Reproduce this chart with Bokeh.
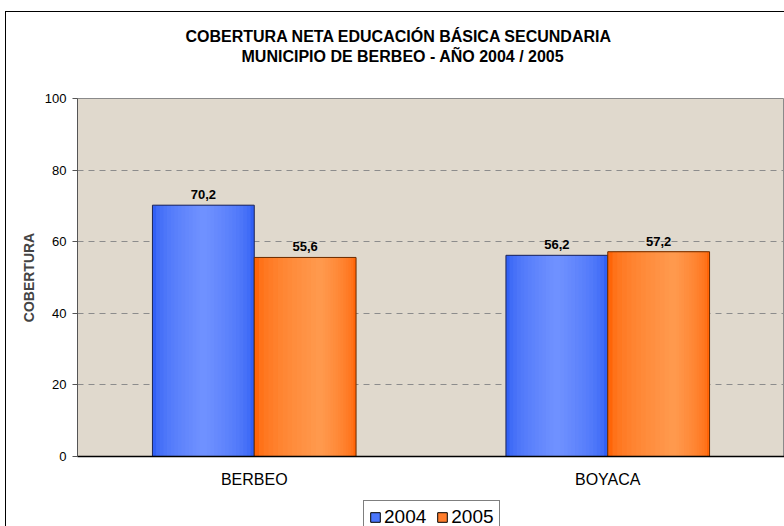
from bokeh.plotting import figure
from bokeh.layouts import column
from bokeh.models import (ColumnDataSource, Legend, LegendItem, Title,
                          FactorRange, Range1d, FixedTicker)
from bokeh.transform import dodge
from bokeh.core.properties import value
from bokeh.embed import file_html
from bokeh.resources import INLINE

# ---- data ----
categories = ["BERBEO", "BOYACA"]
years = ["2004", "2005"]
cov_2004 = [70.2, 56.2]
cov_2005 = [55.6, 57.2]
y_ticks = [0, 20, 40, 60, 80, 100]
title_lines = ["COBERTURA NETA EDUCACIÓN BÁSICA SECUNDARIA",
               "MUNICIPIO DE BERBEO - AÑO 2004 / 2005"]
y_label = "COBERTURA"


def fmt(v):
    return f"{v:.1f}".replace(".", ",")


src = ColumnDataSource(dict(
    cat=categories,
    y2004=cov_2004, y2005=cov_2005,
    t2004=[fmt(v) for v in cov_2004], t2005=[fmt(v) for v in cov_2005],
))

FONT = "Liberation Sans"
# whole chart sits inside a black-bordered box starting at (5, 11) on the page
W, H = 778, 483
p = figure(width=W, height=H,
           x_range=FactorRange(factors=categories, range_padding=0),
           y_range=Range1d(0, 100),
           output_backend="svg", toolbar_location=None,
           min_border_left=71, min_border_right=0, min_border_top=86, min_border_bottom=39)
p.background_fill_color = "#E0D9CD"
p.border_fill_color = "white"
p.outline_line_color = "#8a8a8a"
p.outline_line_width = 1

# axes
p.yaxis.ticker = FixedTicker(ticks=y_ticks)
p.yaxis.axis_line_color = "#555555"
p.yaxis.major_tick_line_color = "#555555"
p.yaxis.major_tick_out = 5
p.yaxis.major_tick_in = 0
p.yaxis.minor_tick_line_color = None
p.yaxis.major_label_text_font = FONT
p.yaxis.major_label_text_font_size = "13px"
p.yaxis.major_label_text_color = "black"
p.yaxis.major_label_standoff = 6
p.yaxis.axis_label = y_label
p.yaxis.axis_label_text_font = FONT
p.yaxis.axis_label_text_font_style = "bold"
p.yaxis.axis_label_text_font_size = "14px"
p.yaxis.axis_label_standoff = 5

p.xaxis.axis_line_color = "black"
p.xaxis.axis_line_width = 1.5
p.xaxis.major_tick_line_color = None
p.xaxis.major_tick_out = 0
p.xaxis.major_label_text_font = FONT
p.xaxis.major_label_text_font_size = "16px"
p.xaxis.major_label_text_color = "black"
p.xaxis.major_label_standoff = 14

p.xgrid.grid_line_color = None
p.ygrid.ticker = FixedTicker(ticks=y_ticks[1:-1])
p.ygrid.grid_line_color = "#8c8c8c"
p.ygrid.grid_line_dash = "6 5"
p.ygrid.grid_line_width = 1

# ---- bars with simulated horizontal gradient ----
BW = 0.288
OFF = 0.144
N = 14


def mix(c1, c2, t):
    a = [int(c1[i:i + 2], 16) for i in (1, 3, 5)]
    b = [int(c2[i:i + 2], 16) for i in (1, 3, 5)]
    return "#" + "".join(f"{round(x + (y - x) * t):02x}" for x, y in zip(a, b))


def gradient_bar(field, offset, edge, light, hl, outline):
    p.vbar(x=dodge("cat", offset, range=p.x_range), top=field, width=BW,
           source=src, fill_color=edge, line_color=None)
    for k in range(1, N):
        t = k / N
        lo = hl * t
        hi = hl + (1 - hl) * (1 - t)
        c = (lo + hi) / 2
        w = hi - lo
        p.vbar(x=dodge("cat", offset + (c - 0.5) * BW, range=p.x_range), top=field,
               width=BW * w, source=src, fill_color=mix(edge, light, t ** 0.55),
               line_color=None)
    p.vbar(x=dodge("cat", offset, range=p.x_range), top=field, width=BW, source=src,
           fill_color=None, line_color=outline, line_width=1)


gradient_bar("y2004", -OFF, "#3160F5", "#7293FF", 0.5, "#1c2456")
gradient_bar("y2005", OFF, "#FF6508", "#FF9B50", 0.65, "#6b2c00")

# value labels
for field, tfield, off in (("y2004", "t2004", -OFF), ("y2005", "t2005", OFF)):
    p.text(x=dodge("cat", off, range=p.x_range), y=field, text=tfield, source=src,
           text_font=value(FONT), text_font_style="bold", text_font_size="13px",
           text_color="black", text_align="center", text_baseline="bottom", y_offset=-6)

# ---- titles (two lines) + spacer nearest the plot ----
p.add_layout(Title(text=" ", standoff=14, text_font=FONT, text_font_size="16px"), "above")
p.add_layout(Title(text=title_lines[1], align="left", offset=164, standoff=1,
                   text_font=FONT, text_font_style="bold", text_font_size="16px",
                   text_color="black"), "above")
p.add_layout(Title(text=title_lines[0], align="left", offset=108, standoff=1,
                   text_font=FONT, text_font_style="bold", text_font_size="16px",
                   text_color="black"), "above")

# ---- legend strip (separate small figure under the chart) ----
LH = 31
lf = figure(width=W, height=LH, x_range=Range1d(0, 1), y_range=Range1d(0, 1),
            output_backend="svg", toolbar_location=None,
            min_border_left=0, min_border_right=0, min_border_top=0, min_border_bottom=0)
lf.axis.visible = False
lf.grid.visible = False
lf.outline_line_color = None
lf.background_fill_color = "white"
lf.border_fill_color = "white"
# legend proxies: one bar each, lying entirely below the visible range
proxy = ColumnDataSource(dict(x=[0.5], top=[-1], bottom=[-2]))
g04 = lf.vbar(x="x", top="top", bottom="bottom", width=0.1, source=proxy,
              fill_color="#4A76FC", line_color="black")
g05 = lf.vbar(x="x", top="top", bottom="bottom", width=0.1, source=proxy,
              fill_color="#FF7D2C", line_color="black")
legend = Legend(items=[LegendItem(label=years[0], renderers=[g04]),
                       LegendItem(label=years[1], renderers=[g05])],
                orientation="horizontal", location=(286, -8),
                label_text_font=FONT, label_text_font_size="19px", label_text_color="black",
                label_height=18, label_standoff=3,
                glyph_width=12, glyph_height=12, spacing=10, padding=5, margin=0,
                border_line_color="black", border_line_width=1,
                background_fill_color="white", background_fill_alpha=1)
lf.add_layout(legend, "center")

layout = column(p, lf, spacing=0)
layout.styles = {"border": "1px solid black", "margin-left": "5px", "margin-top": "11px"}
open("out.html", "w").write(file_html(layout, INLINE))
